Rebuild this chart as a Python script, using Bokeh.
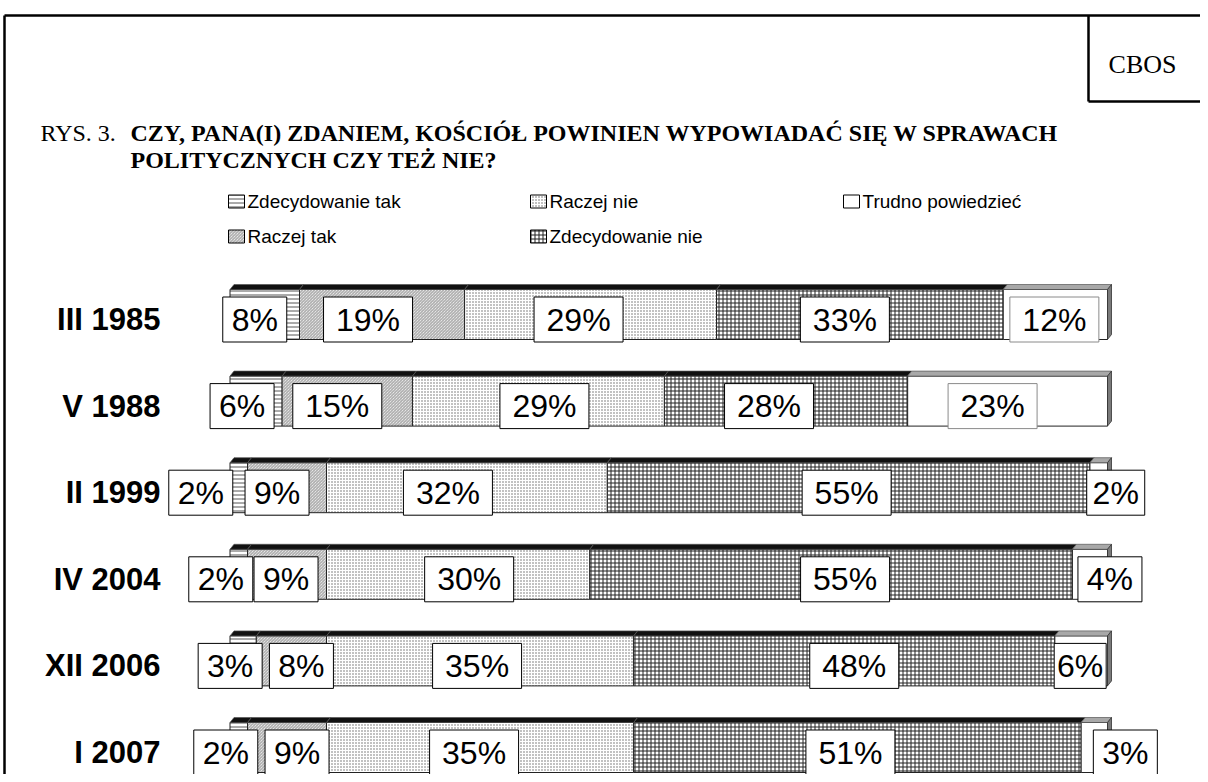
from bokeh.plotting import figure
from bokeh.models import Range1d, ColumnDataSource
from bokeh.core.properties import value
from bokeh.embed import file_html
from bokeh.resources import INLINE

# ---------------- data ----------------
periods = ["III 1985", "V 1988", "II 1999", "IV 2004", "XII 2006", "I 2007"]
categories = ["Zdecydowanie tak", "Raczej tak", "Raczej nie",
              "Zdecydowanie nie", "Trudno powiedzieć"]
zdecydowanie_tak = [8, 6, 2, 2, 3, 2]
raczej_tak = [19, 15, 9, 9, 8, 9]
raczej_nie = [29, 29, 32, 30, 35, 35]
zdecydowanie_nie = [33, 28, 55, 55, 48, 51]
trudno_powiedziec = [12, 23, 2, 4, 6, 3]
series = [zdecydowanie_tak, raczej_tak, raczej_nie, zdecydowanie_nie, trudno_powiedziec]

title_prefix = "RYS. 3."
title_line1 = "CZY, PANA(I) ZDANIEM, KOŚCIÓŁ POWINIEN WYPOWIADAĆ SIĘ W SPRAWACH"
title_line2 = "POLITYCZNYCH CZY TEŻ NIE?"
source_text = "CBOS"

# ---------------- layout ----------------
W, H = 1200, 774
BAR_X0 = 229.5      # px of 0 %
PX_PCT = 8.775      # px per percent
ROW0 = 319          # px of first row centre
ROW_STEP = 86.6

def X(px):
    return (px - BAR_X0) / PX_PCT

def Y(py):
    return (py - ROW0) / ROW_STEP

def DX(px):
    return px / PX_PCT

def DY(px):
    return px / ROW_STEP

# label box horizontal nudges (px) relative to segment centres
label_nudge = [
    [-10, -14, -12, -15, -1],
    [-14, -10, 6, -17, -15],
    [-38, -10, -19, -2, 17],
    [-18, -1, 11, 14, 20],
    [-13, 10, -3, 10, -1],
    [-13, 10, -6, -7, 31],
]
box_width_override = {(4, 4): 52, (2, 4): 58}
box_border_override = {(0, 4): "#8a8a8a", (1, 4): "#8a8a8a"}

styles = [
    dict(fill_color="white", hatch_pattern="horizontal_line", hatch_scale=4,
         hatch_color="#555555", hatch_weight=1),
    dict(fill_color="white", hatch_pattern="left_diagonal_line", hatch_scale=3,
         hatch_color="#707070", hatch_weight=0.7),
    dict(fill_color="white", hatch_pattern="dot", hatch_scale=3,
         hatch_color="#666666", hatch_weight=1),
    dict(fill_color="white", hatch_pattern="cross", hatch_scale=4,
         hatch_color="#222222", hatch_weight=1),
    dict(fill_color="white"),
]

p = figure(width=W, height=H, output_backend="svg", toolbar_location=None,
           x_range=Range1d(X(0), X(W)),
           y_range=Range1d(Y(H), Y(0)),
           x_axis_location=None, y_axis_location=None,
           min_border=0, tools="")
p.grid.visible = False
p.outline_line_color = None
p.background_fill_color = "white"
p.border_fill_color = "white"

SANS = value("Liberation Sans")
SERIF = value("Liberation Serif")

# ---------------- frame ----------------
p.segment(x0=[X(4), X(4), X(1088), X(1088)],
          y0=[Y(15), Y(15), Y(15), Y(101)],
          x1=[X(1215), X(4), X(1088), X(1215)],
          y1=[Y(15), Y(800), Y(101), Y(101)],
          line_color="black", line_width=2.5)
p.text(x=[X(1142)], y=[Y(64)], text=[source_text], text_font=SERIF,
       text_font_size="26px", text_align="center", text_baseline="middle",
       text_color="black")

# ---------------- title ----------------
p.text(x=[X(40)], y=[Y(132)], text=[title_prefix], text_font=SERIF,
       text_font_size="24px", text_baseline="middle", text_color="black")
p.text(x=[X(130), X(130)], y=[Y(132), Y(159)], text=[title_line1, title_line2],
       text_font=SERIF, text_font_size="24px", text_font_style="bold",
       text_baseline="middle", text_color="black")

# ---------------- legend ----------------
leg_pos = [(228, 201), (228, 236), (530, 201), (530, 236), (843, 201)]
for j, (lx, ly) in enumerate(leg_pos):
    p.rect(x=[X(lx + 8)], y=[Y(ly)], width=16, height=13,
           width_units="screen", height_units="screen",
           line_color="black", line_width=1, **styles[j])
    p.text(x=[X(lx + 19)], y=[Y(ly)], text=[categories[j]], text_font=SANS,
           text_font_size="19px", text_baseline="middle", text_color="black")

# ---------------- bars ----------------
totals = [sum(s[i] for s in series) for i in range(len(periods))]
FRONT_TOP = DY(-30)
FRONT_BOT = DY(20)
DEPTH_X = DX(4)
DEPTH_Y = DY(5)

lefts_all, rights_all = [], []
cum = [0.0] * len(periods)
for j, s in enumerate(series):
    lefts = [cum[i] / totals[i] * 100 for i in range(len(periods))]
    rights = [(cum[i] + s[i]) / totals[i] * 100 for i in range(len(periods))]
    cum = [cum[i] + s[i] for i in range(len(periods))]
    lefts_all.append(lefts)
    rights_all.append(rights)
    src = ColumnDataSource(dict(
        left=lefts, right=rights,
        top=[i + FRONT_TOP for i in range(len(periods))],
        bottom=[i + FRONT_BOT for i in range(len(periods))]))
    p.quad(left="left", right="right", top="top", bottom="bottom", source=src,
           line_color="#222222", line_width=1, **styles[j])
    # 3D top face
    xs = [[l, r, r + DEPTH_X, l + DEPTH_X] for l, r in zip(lefts, rights)]
    ys = [[i + FRONT_TOP, i + FRONT_TOP, i + FRONT_TOP - DEPTH_Y, i + FRONT_TOP - DEPTH_Y]
          for i in range(len(periods))]
    top_col = "#a8a8a8" if j == len(series) - 1 else "#111111"
    p.patches(xs=xs, ys=ys, fill_color=top_col, line_color="#555555", line_width=0.7)

# right side faces
ends = rights_all[-1]
p.patches(xs=[[e, e + DEPTH_X, e + DEPTH_X, e] for e in ends],
          ys=[[i + FRONT_TOP, i + FRONT_TOP - DEPTH_Y, i + FRONT_BOT - DEPTH_Y, i + FRONT_BOT]
              for i in range(len(periods))],
          fill_color="#7a7a7a", line_color="#333333", line_width=0.8)

# ---------------- period labels ----------------
p.text(x=[X(160)] * len(periods), y=list(range(len(periods))), text=periods,
       text_font=SANS, text_font_size="31px", text_font_style="bold",
       text_align="right", text_baseline="middle", text_color="black")

# ---------------- value labels ----------------
bx, by, bw, bt, bc = [], [], [], [], []
for j, s in enumerate(series):
    for i in range(len(periods)):
        cx = (lefts_all[j][i] + rights_all[j][i]) / 2 + DX(label_nudge[i][j])
        t = f"{s[i]}%"
        bx.append(cx)
        by.append(i)
        bw.append(box_width_override.get((i, j), 25 * len(t) + 14))
        bc.append(box_border_override.get((i, j), "black"))
        bt.append(t)
lab = ColumnDataSource(dict(x=bx, y=by, w=bw, t=bt, c=bc))
p.rect(x="x", y="y", width="w", height=45, width_units="screen",
       height_units="screen", source=lab, fill_color="white",
       line_color="c", line_width=1)
p.text(x="x", y="y", text="t", source=lab, text_font=SANS,
       text_font_size="32px", text_align="center", text_baseline="middle",
       text_color="black")

open("out.html", "w").write(file_html(p, INLINE))
